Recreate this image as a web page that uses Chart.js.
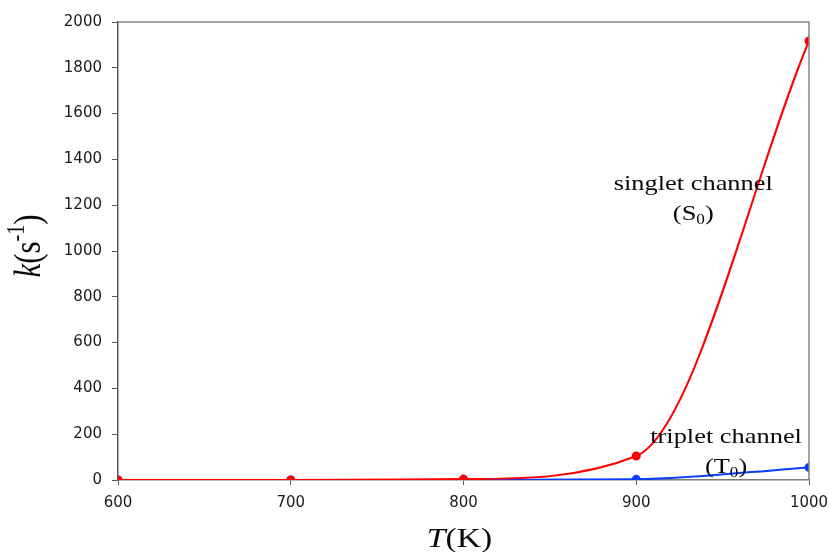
<!DOCTYPE html>
<html>
<head>
<meta charset="utf-8">
<script src="https://cdn.jsdelivr.net/npm/chart.js@4/dist/chart.umd.min.js"></script>
<style>
  html, body { margin: 0; padding: 0; background: #ffffff; }
  #wrap { width: 829px; height: 552px; position: relative; }
</style>
</head>
<body>
<div id="wrap"><canvas id="c" width="829" height="552"></canvas></div>
<script>
// Rate constants of the two channels versus temperature
const temperatures = [600, 700, 800, 900, 1000];
const singletRates = [0, 0, 4, 105, 1917];
const tripletRates = [0, 0, 0, 3, 55];
const xTicks = [600, 700, 800, 900, 1000];
const yTicks = [0, 200, 400, 600, 800, 1000, 1200, 1400, 1600, 1800, 2000];

const SERIF = '"Liberation Serif", "Times New Roman", serif';
const STRETCH = 1.2;

function toPoints(xs, ys) {
  return xs.map((x, i) => ({ x: x, y: ys[i] }));
}

// Draw a line of mixed text (italic / sub / sup runs), centred at the origin on its baseline
function richText(ctx, runs, size) {
  let w = 0;
  const parts = runs.map(r => {
    const s = r.sub || r.sup ? size * 0.65 : size;
    const f = (r.italic ? 'italic ' : '') + s + 'px ' + SERIF;
    ctx.font = f;
    const m = ctx.measureText(r.t).width;
    w += m;
    return { t: r.t, f: f, m: m, dy: r.sub ? size * 0.18 : (r.sup ? -size * 0.42 : 0) };
  });
  let x = -w / 2;
  parts.forEach(p => {
    ctx.font = p.f;
    ctx.fillText(p.t, x, p.dy);
    x += p.m;
  });
}

const decor = {
  id: 'decor',
  afterDraw(chart) {
    const { ctx, chartArea: a, scales } = chart;
    const xs = scales.x, ys = scales.y;
    ctx.save();
    // top and right frame of the plot
    ctx.strokeStyle = '#858585';
    ctx.lineWidth = 1.5;
    ctx.beginPath();
    ctx.moveTo(a.left, a.top);
    ctx.lineTo(a.right, a.top);
    ctx.lineTo(a.right, a.bottom);
    ctx.stroke();

    ctx.fillStyle = '#0a0a0a';
    ctx.textBaseline = 'alphabetic';

    const notes = [
      { x: 933, y: 1265, runs: [{ t: 'singlet channel' }] },
      { x: 933, y: 1137, runs: [{ t: '(S' }, { t: '0', sub: true }, { t: ')' }] },
      { x: 952, y: 162, runs: [{ t: 'triplet channel' }] },
      { x: 952, y: 31, runs: [{ t: '(T' }, { t: '0', sub: true }, { t: ')' }] }
    ];
    notes.forEach(n => {
      ctx.save();
      ctx.translate(xs.getPixelForValue(n.x), ys.getPixelForValue(n.y));
      ctx.scale(STRETCH, 1);
      richText(ctx, n.runs, 22);
      ctx.restore();
    });

    // x axis title
    ctx.save();
    ctx.translate((a.left + a.right) / 2 - 4, chart.height - 5);
    ctx.scale(STRETCH, 1);
    richText(ctx, [{ t: 'T', italic: true }, { t: '(K)' }], 28);
    ctx.restore();

    // y axis title
    ctx.save();
    ctx.translate(40, (a.top + a.bottom) / 2 - 5);
    ctx.scale(STRETCH, 1);
    ctx.rotate(-Math.PI / 2);
    richText(ctx, [{ t: 'k', italic: true }, { t: '(s' }, { t: '-1', sup: true }, { t: ')' }], 31);
    ctx.restore();

    ctx.restore();
  }
};

const tickFont = { family: '"DejaVu Sans", sans-serif', size: 15 };

new Chart(document.getElementById('c'), {
  type: 'scatter',
  data: {
    datasets: [
      {
        label: 'singlet channel (S0)',
        data: toPoints(temperatures, singletRates),
        showLine: true,
        borderColor: '#ff0000',
        backgroundColor: '#ff0000',
        borderWidth: 2,
        pointRadius: 3.5,
        pointHoverRadius: 3.5,
        cubicInterpolationMode: 'monotone'
      },
      {
        label: 'triplet channel (T0)',
        data: toPoints(temperatures, tripletRates),
        showLine: true,
        borderColor: '#0a3cff',
        backgroundColor: '#0a3cff',
        borderWidth: 2,
        pointRadius: 3.5,
        pointHoverRadius: 3.5,
        cubicInterpolationMode: 'monotone'
      }
    ]
  },
  options: {
    responsive: false,
    animation: false,
    devicePixelRatio: 1,
    layout: { padding: { top: 22, right: 20, left: 0, bottom: 0 } },
    plugins: { legend: { display: false }, tooltip: { enabled: false } },
    scales: {
      x: {
        type: 'linear',
        min: 600,
        max: 1000,
        afterBuildTicks(s) { s.ticks = xTicks.map(v => ({ value: v })); },
        afterFit(s) { s.height = 72; s.paddingLeft = 0; s.paddingRight = 0; },
        grid: { drawOnChartArea: false, drawTicks: true, tickLength: 5, color: '#595959', lineWidth: 1 },
        border: { display: true, color: '#7a7a7a', width: 1.5 },
        ticks: { color: '#1a1a1a', font: tickFont, padding: 9, maxRotation: 0, callback: v => String(v) }
      },
      y: {
        type: 'linear',
        min: 0,
        max: 2000,
        afterBuildTicks(s) { s.ticks = yTicks.map(v => ({ value: v })); },
        afterFit(s) { s.width = 118; s.paddingTop = 0; s.paddingBottom = 0; },
        grid: { drawOnChartArea: false, drawTicks: true, tickLength: 6, color: '#595959', lineWidth: 1 },
        border: { display: true, color: '#595959', width: 1.5 },
        ticks: { color: '#1a1a1a', font: tickFont, padding: 10, callback: v => String(v) }
      }
    }
  },
  plugins: [decor]
});
</script>
</body>
</html>
